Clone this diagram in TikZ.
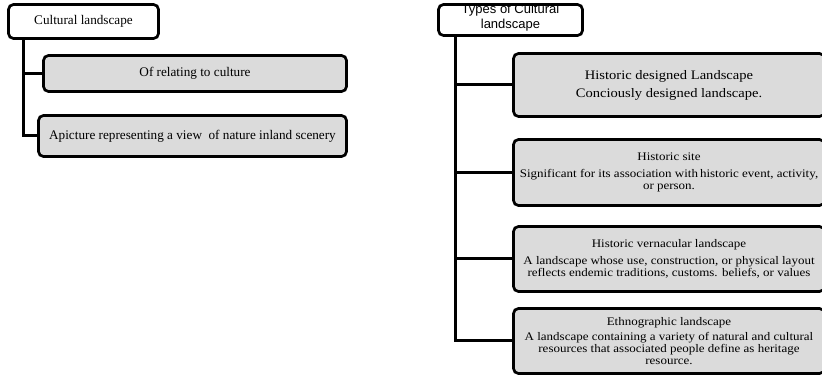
\documentclass[tikz,border=0pt]{standalone}
\usepackage{fontspec}
\setmainfont{Liberation Serif}
\newfontfamily\boxsans{Liberation Sans}
\newfontfamily\wideserif[FakeStretch=1.12]{Liberation Serif}
\begin{document}
\begin{tikzpicture}[x=1pt,y=-1pt,
  box/.style={draw=black,line width=2.7pt,rounded corners=5pt,inner sep=2pt,align=center},
  topbox/.style={box,fill=white},
  subbox/.style={box,fill=gray!28},
  connector/.style={line width=3pt,line cap=rect},
  lfont/.style={font=\fontsize{13.2}{15}\selectfont},
  rfont/.style={font=\wideserif\fontsize{11.6}{12.2}\selectfont}]
\useasboundingbox (0,0) rectangle (822,379);
\fill[white] (0,0) rectangle (822,379);
\begin{scope}
\clip (0,0) rectangle (822,379);
% left tree
\node[topbox,lfont,minimum width=150pt,minimum height=34pt] (cl) at (83.5,21.5) {Cultural landscape};
\node[subbox,lfont,minimum width=303pt,minimum height=36pt] (c1) at (195,73.5) {Of relating to culture};
\node[subbox,lfont,minimum width=308pt,minimum height=41pt] (c2) at (192.5,136) {Apicture representing a view\ \ of nature inland scenery};
\coordinate (lt) at (23,40);
\draw[black,connector] (lt) |- (c1.west);
\draw[black,connector] (lt) |- (c2.west);
% right tree
\node[topbox,minimum width=144pt,minimum height=31pt] (tc) at (510.5,20) {};
\node[font=\boxsans\fontsize{13}{15}\selectfont,align=center,inner sep=0pt] (tct) at (510.5,18) {Types of Cultural\\landscape};
\node[subbox,minimum width=311pt,minimum height=63pt,font=\wideserif\fontsize{13}{18}\selectfont] (r1) at (669,85) {Historic designed Landscape\\Conciously designed landscape.};
\node[subbox,rfont,minimum width=311pt,minimum height=66pt] (r2) at (669,172.5) {Historic site\\[4pt]\makebox[0pt][c]{Significant for its association with\,historic event, activity,}\\or person.};
\node[subbox,rfont,minimum width=311pt,minimum height=65pt] (r3) at (669,259) {Historic vernacular landscape\\[5pt]A landscape whose use, construction, or physical layout\\reflects endemic traditions, customs. beliefs, or values};
\node[subbox,rfont,minimum width=311pt,minimum height=65pt] (r4) at (669,341) {Ethnographic landscape\\[3pt]A landscape containing a variety of natural and cultural\\resources that associated people define as heritage\\resource.};
\coordinate (rt) at (455,37);
\draw[black,connector] (rt) |- (r1.west);
\draw[black,connector] (rt) |- (r2.west);
\draw[black,connector] (rt) |- (r3.west);
\draw[black,connector] (rt) |- (r4.west);
\end{scope}
\end{tikzpicture}
\end{document}
